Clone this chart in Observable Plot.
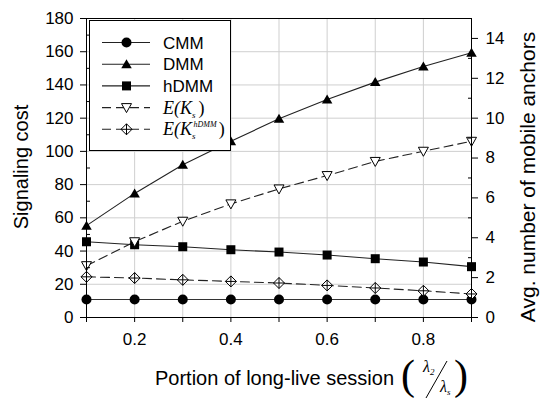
<!DOCTYPE html>
<html><head><meta charset="utf-8">
<script src="https://cdn.jsdelivr.net/npm/d3@7"></script>
<script src="https://cdn.jsdelivr.net/npm/@observablehq/plot@0.6"></script>
<style>
body{margin:0;background:#fff}
svg{display:block}
</style>
</head><body><div id="chart"></div>
<script>
// x: portion of long-live session
const portions = [0.1, 0.2, 0.3, 0.4, 0.5, 0.6, 0.7, 0.8, 0.9];
// signaling cost (left axis)
const cmm  = [10.8, 10.8, 10.8, 10.8, 10.8, 10.8, 10.8, 10.8, 10.8];
const dmm  = [55.3, 74.7, 91.9, 106.1, 119.6, 131.2, 141.7, 151.1, 159.4];
const hdmm = [45.6, 43.8, 42.6, 40.8, 39.4, 37.6, 35.4, 33.4, 30.6];
// avg. number of mobile anchors (right axis)
const eKs      = [2.6, 3.8, 4.83, 5.7, 6.45, 7.12, 7.83, 8.34, 8.84];
const eKsHdmm  = [2.04, 1.98, 1.89, 1.81, 1.73, 1.61, 1.48, 1.34, 1.18];
// ticks
const leftTicks  = [0, 20, 40, 60, 80, 100, 120, 140, 160, 180];
const leftMinor  = [10, 30, 50, 70, 90, 110, 130, 150, 170];
const rightTicks = [0, 2, 4, 6, 8, 10, 12, 14];
const rightMinor = [1, 3, 5, 7, 9, 11, 13];
const xLabels    = [0.2, 0.4, 0.6, 0.8];
const ratio = 12; // left 0–180 vs right 0–15

const rows = (vals, k = 1) => portions.map((p, i) => ({p, v: vals[i] * k}));

// custom symbols
const symTriUp = {draw(c, size) { const r = Math.sqrt(size / Math.PI);
  c.moveTo(0, -r * 1.0); c.lineTo(r * 1.05, r * 0.8); c.lineTo(-r * 1.05, r * 0.8); c.closePath(); }};
const symTriDown = {draw(c, size) { const r = Math.sqrt(size / Math.PI);
  c.moveTo(-r * 1.0, -r * 0.8); c.lineTo(r * 1.0, -r * 0.8); c.lineTo(0, r * 1.0); c.closePath(); }};
const symSquare = {draw(c, size) { const r = Math.sqrt(size / Math.PI) * 0.9;
  c.rect(-r, -r, 2 * r, 2 * r); }};
const symDiamondCross = {draw(c, size) { const r = Math.sqrt(size / Math.PI) * 1.1;
  c.moveTo(0, -r); c.lineTo(r, 0); c.lineTo(0, r); c.lineTo(-r, 0); c.closePath();
  c.moveTo(0, -r); c.lineTo(0, r); c.moveTo(-r, 0); c.lineTo(r, 0); }};

const font = "'Liberation Sans', Arial, sans-serif";
const serif = "'Liberation Serif', 'Times New Roman', serif";

const series = [
  {name: "CMM",  data: rows(cmm),  dash: null, sym: "circle", fill: "#000", stroke: "none", line: "#333"},
  {name: "DMM",  data: rows(dmm),  dash: null, sym: symTriUp, fill: "#000", stroke: "none", line: "#222"},
  {name: "hDMM", data: rows(hdmm), dash: null, sym: symSquare, fill: "#000", stroke: "none", line: "#222"},
  {name: "EKs",  data: rows(eKs, ratio), dash: "9,5", sym: symTriDown, fill: "#fff", stroke: "#000", line: "#222"},
  {name: "EKsH", data: rows(eKsHdmm, ratio), dash: "9,5", sym: symDiamondCross, fill: "#fff", stroke: "#000", line: "#222"}
];

const marks = [
  Plot.gridX(portions, {stroke: "#cfcfcf", strokeOpacity: 1}),
  Plot.gridY(leftTicks, {stroke: "#cfcfcf", strokeOpacity: 1}),
];
for (const s of series) {
  marks.push(Plot.line(s.data, {x: "p", y: "v", stroke: s.line, strokeWidth: 1.1, strokeDasharray: s.dash}));
}
for (const s of series) {
  marks.push(Plot.dot(s.data, {x: "p", y: "v", symbol: s.sym, r: 5, fill: s.fill, stroke: s.stroke, strokeWidth: 1}));
}
const blank = () => "";
marks.push(
  Plot.frame({stroke: "#000", strokeWidth: 1}),
  Plot.axisY(leftTicks, {anchor: "left", tickSize: 6, tickPadding: 7, label: null, fontSize: 17, stroke: "#000"}),
  Plot.axisY(leftMinor, {anchor: "left", tickSize: -4, label: null, tickFormat: blank, stroke: "#000"}),
  Plot.axisY(rightTicks.map(v => v * ratio), {anchor: "right", tickSize: 6, tickPadding: 8, label: null, fontSize: 17,
    tickFormat: d => String(Math.round(d / ratio)), stroke: "#000"}),
  Plot.axisY(rightMinor.map(v => v * ratio), {anchor: "right", tickSize: -4, label: null, tickFormat: blank, stroke: "#000"}),
  Plot.axisX(portions, {anchor: "bottom", tickSize: 5, tickPadding: 10, label: null, fontSize: 17,
    tickFormat: d => xLabels.includes(d) ? String(d) : "", stroke: "#000"})
);

const svg = Plot.plot({
  width: 541, height: 399,
  marginLeft: 86, marginRight: 70, marginTop: 18, marginBottom: 82,
  style: {fontFamily: font, color: "#000", background: "#fff"},
  x: {domain: [0.1, 0.9]},
  y: {domain: [0, 180]},
  marks
});

const g = d3.select(svg).append("g").attr("text-anchor", "start");

// axis titles
g.append("text").attr("transform", "translate(28,167) rotate(-90)")
  .attr("text-anchor", "middle").attr("font-family", font).attr("font-size", 20).attr("fill", "#000")
  .text("Signaling cost");
g.append("text").attr("transform", "translate(535,177) rotate(-90)")
  .attr("text-anchor", "middle").attr("font-family", font).attr("font-size", 21).attr("fill", "#000")
  .text("Avg. number of mobile anchors");
g.append("text").attr("x", 155).attr("y", 385).attr("text-anchor", "start")
  .attr("font-family", font).attr("font-size", 20).attr("fill", "#000")
  .text("Portion of long-live session");
// fraction (λ2 / λs) in large parentheses
const fr = g.append("g").attr("font-family", serif).attr("fill", "#000").attr("text-anchor", "start");
fr.append("text").attr("x", 401).attr("y", 389).attr("font-size", 42).attr("font-weight", 300).text("(");
fr.append("text").attr("x", 454).attr("y", 389).attr("font-size", 42).attr("font-weight", 300).text(")");
const l2 = fr.append("text").attr("x", 423).attr("y", 372).attr("font-size", 16).attr("font-style", "italic");
l2.append("tspan").text("λ");
l2.append("tspan").attr("font-size", 9).attr("dy", 3).text("2");
const ls = fr.append("text").attr("x", 440).attr("y", 392).attr("font-size", 16).attr("font-style", "italic");
ls.append("tspan").text("λ");
ls.append("tspan").attr("font-size", 9).attr("dy", 3).text("s");
fr.append("path").attr("d", "M426,398 L447,361").attr("stroke", "#000").attr("stroke-width", 1).attr("fill", "none");

// legend
const lg = g.append("g");
lg.append("rect").attr("x", 89.5).attr("y", 20.5).attr("width", 141).attr("height", 130)
  .attr("fill", "#fff").attr("stroke", "#000").attr("stroke-width", 1);
const ly0 = 42.5, lstep = 21.7;
series.forEach((s, i) => {
  const y = ly0 + i * lstep;
  lg.append("line").attr("x1", 102).attr("x2", 150).attr("y1", y).attr("y2", y)
    .attr("stroke", "#222").attr("stroke-width", 1.1).attr("stroke-dasharray", s.dash ? "9,5" : null);
  const size = 25 * Math.PI;
  const p = d3.path();
  if (s.sym === "circle") { p.arc(0, 0, 5, 0, 2 * Math.PI); } else { s.sym.draw(p, size); }
  lg.append("path").attr("transform", `translate(126.5,${y})`).attr("d", p.toString())
    .attr("fill", s.fill).attr("stroke", s.stroke).attr("stroke-width", 1);
});
const lt = (i) => ly0 + i * lstep + 6;
["CMM", "DMM", "hDMM"].forEach((t, i) => {
  lg.append("text").attr("x", 163).attr("y", lt(i)).attr("text-anchor", "start")
    .attr("font-family", font).attr("font-size", 17).attr("fill", "#000").text(t);
});
const e1 = lg.append("text").attr("x", 163).attr("y", lt(3)).attr("text-anchor", "start").attr("font-family", serif)
  .attr("font-size", 18).attr("font-style", "italic").attr("fill", "#000");
e1.append("tspan").text("E(K");
e1.append("tspan").attr("font-size", 9).attr("dy", 4).text("s");
e1.append("tspan").attr("dy", -4).attr("dx", 3).attr("font-style", "normal").text(")");
const e2 = lg.append("text").attr("x", 163).attr("y", lt(4)).attr("text-anchor", "start").attr("font-family", serif)
  .attr("font-size", 18).attr("font-style", "italic").attr("fill", "#000");
e2.append("tspan").text("E(K");
e2.append("tspan").attr("font-size", 9).attr("dy", 4).text("s");
e2.append("tspan").attr("font-size", 8).attr("dy", -12).attr("dx", -2).text("hDMM");
e2.append("tspan").attr("dy", 8).attr("dx", 2).attr("font-style", "normal").text(")");

document.getElementById("chart").appendChild(svg);
</script>
</body></html>
